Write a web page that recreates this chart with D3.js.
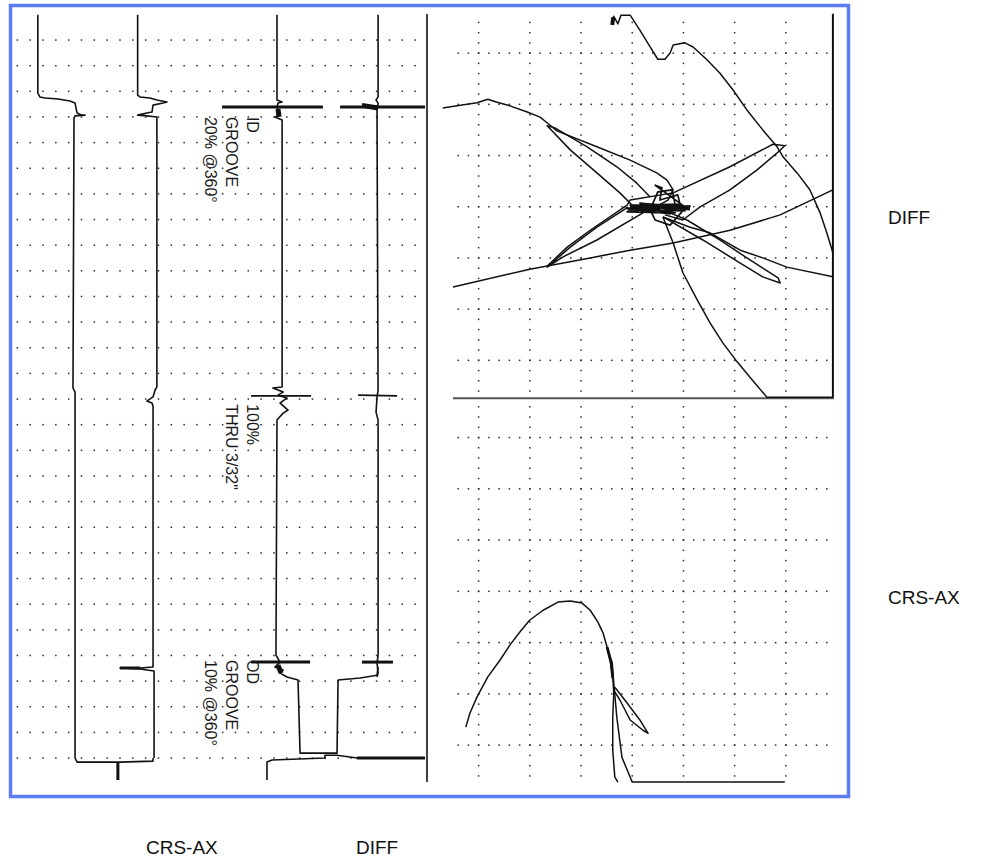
<!DOCTYPE html>
<html><head><meta charset="utf-8">
<script src="https://cdn.jsdelivr.net/npm/d3@7"></script>
<style>html,body{margin:0;padding:0;background:#fff;} svg{display:block;}</style>
</head><body><svg id="c" width="997" height="864"></svg>
<script>
// ---------------- DATA ----------------
// Strip chart: x in channel divisions, y in sample rows
const stripRows = d3.range(0, 28.001, 1);
const stripDotCols = d3.range(0, 15.51, 0.5);

const stripCh1 = [[0.80,-0.98],[0.80,2.07],[0.88,2.22],[1.08,2.26],[1.59,2.30],[2.05,2.38],[2.25,2.46],[2.33,2.85],[2.52,2.93],[2.64,2.93],[2.25,2.96],[2.21,3.04],[2.17,13.57],[2.25,13.73],[2.25,28.00],[2.33,28.16],[4.00,28.16],[5.29,28.12],[5.29,28.00]];
const stripCh1Stub = [[3.92,28.16],[3.92,28.86]];
const stripCh2 = [[4.69,-0.98],[4.69,2.15],[4.78,2.22],[5.17,2.26],[5.44,2.34],[5.83,2.42],[5.68,2.46],[5.29,2.54],[5.25,2.81],[5.05,2.85],[4.69,2.93],[5.05,2.96],[5.44,3.00],[5.44,13.53],[5.37,13.65],[5.29,13.92],[5.05,14.08],[5.25,14.16],[5.29,14.27],[5.29,24.45],[4.78,24.49],[4.00,24.49],[4.78,24.53],[5.33,24.61],[5.33,28.00]];
const stripCh2Marks = [[[4.00,24.49],[4.78,24.49]]];
const stripCh3 = [[10.12,-0.98],[10.12,2.34],[10.32,2.42],[10.16,2.46],[10.12,2.61],[10.24,2.93],[10.04,3.00],[10.32,3.12],[10.32,13.53],[9.96,13.57],[10.36,13.73],[10.16,13.85],[10.51,13.96],[10.24,14.16],[10.55,14.43],[10.36,14.55],[10.12,14.82],[10.08,23.99],[10.24,24.26],[10.04,24.45],[10.36,24.57],[10.24,24.69],[10.51,24.84],[10.94,24.96],[11.02,27.81],[12.46,27.81],[12.50,24.96],[13.36,24.88],[14.02,24.77],[14.06,24.45]];
const stripCh3Bottom = [[9.73,28.86],[9.73,28.16],[9.93,28.08],[11.99,28.00],[11.99,27.89],[12.46,27.89],[13.24,28.00],[15.89,28.00]];
const stripCh3Marks = [[[7.98,2.61],[11.91,2.61]],[[9.11,24.26],[11.41,24.26]],[[13.24,28.00],[15.89,28.00]]];
const stripCh3ThinMarks = [[[9.11,13.88],[11.45,13.88]]];
const stripBlobs = [[[10.16,2.69],[10.20,3.00]],[[10.16,24.38],[10.28,24.69]],[[13.43,2.55],[14.06,2.65]]];
const stripCh4 = [[14.06,-0.98],[14.06,2.22],[13.98,2.34],[14.06,2.46],[14.02,2.73],[14.02,3.24],[14.06,13.65],[14.02,13.92],[13.98,14.51],[14.06,14.82],[14.06,23.99],[14.02,24.30],[14.06,24.69],[14.02,24.84]];
const stripCh4Marks = [[[12.58,2.61],[15.89,2.61]],[[13.43,24.26],[14.64,24.26]]];
const stripCh4ThinMarks = [[[13.28,13.85],[14.80,13.88]]];

const annotations = [
  {lines:["ID","GROOVE","20% @360°"], ch:8.95, t:3.00},
  {lines:["100%","THRU 3/32\u02BA"], ch:8.95, t:14.20},
  {lines:["OD","GROOVE","10% @360°"], ch:8.95, t:24.18}
];

// Lissajous plots: volts in screen divisions
const gridDivs = [-3,-2,-1,0,1,2,3];
const colDots = d3.range(-3.6, 3.601, 0.2);
const rowDots = d3.range(-3.4, 3.801, 0.2);

const diffA = [[-0.39,3.61],[-0.36,3.72],[-0.28,3.57],[-0.22,3.74],[-0.04,3.74],[0.15,3.45],[0.35,3.12],[0.50,2.88],[0.64,2.88],[0.74,3.00],[0.80,3.16],[1.03,3.20],[1.19,3.12],[1.46,2.87],[1.71,2.61],[1.97,2.28],[2.24,1.89],[2.55,1.50],[2.83,1.17],[2.95,0.97],[3.22,0.66],[3.47,0.33],[3.67,-0.12],[3.80,-0.51],[3.92,-0.90]];
const diffB = [[-3.70,1.93],[-3.42,1.97],[-3.03,2.03],[-2.82,2.10],[-2.64,2.04],[-2.39,1.97],[-2.05,1.85],[-1.80,1.75],[-1.64,1.62],[-1.47,1.48],[-0.69,1.17],[-0.04,0.91],[0.48,0.66],[0.68,0.52],[0.80,0.33],[0.70,0.13],[0.45,-0.01]];
const diffC = [[0.35,0.19],[0.09,0.46],[-0.30,0.78],[-0.88,1.17],[-1.51,1.54],[-1.66,1.58],[-1.21,1.11],[-0.69,0.66],[-0.24,0.27],[0.00,0.03]];
const diffD = [[-0.08,-0.01],[-0.69,-0.40],[-1.21,-0.79],[-1.66,-1.18],[-1.35,-0.98],[-0.69,-0.65],[0.21,-0.12]];
const diffE = [[-3.50,-1.57],[-2.00,-1.22],[-1.66,-1.16],[-0.82,-1.00],[-0.04,-0.85],[0.80,-0.71],[1.91,-0.46],[2.89,-0.16],[3.92,0.33]];
const diffF = [[-1.66,-1.16],[-1.27,-0.79],[-0.82,-0.46],[-0.10,0.03],[-0.04,0.13],[0.80,0.27],[1.91,0.78],[2.75,1.22],[2.98,1.19],[2.83,1.05],[2.44,0.72],[1.91,0.33],[1.32,-0.01],[0.99,-0.26],[0.64,-0.16]];
const diffG = [[0.60,-0.20],[1.38,-0.65],[2.11,-1.10],[2.55,-1.37],[2.89,-1.49],[2.85,-1.39],[2.30,-1.04],[1.71,-0.65],[1.07,-0.26],[0.74,-0.12]];
const diffH = [[0.60,-0.20],[1.13,-0.40],[1.52,-0.51],[2.11,-0.85],[2.55,-1.00],[3.02,-1.18],[3.92,-1.37]];
const diffI = [[0.60,-0.20],[0.80,-0.71],[0.99,-1.29],[1.27,-1.82],[1.52,-2.27],[1.77,-2.66],[2.05,-3.03],[2.30,-3.33],[2.63,-3.72],[3.92,-3.72]];
const diffCore = [[-0.14,-0.03],[1.13,0.01],[-0.08,-0.06],[1.03,-0.08],[-0.04,0.03],[0.93,0.05],[-0.10,-0.10],[0.84,-0.12],[0.02,-0.01],[1.09,-0.03],[0.15,0.07],[0.74,-0.14],[0.07,-0.06],[1.01,0.01],[0.45,0.42],[0.58,0.37],[0.54,0.13],[0.89,0.23],[0.97,-0.10],[0.74,-0.36],[0.45,-0.26],[0.35,-0.06],[0.50,0.29],[0.78,0.33],[0.84,0.03]];
const diffCoreThick = [[-0.04,-0.03],[0.64,0.01],[1.13,-0.03]];
const diffStartBlob = [[-0.39,3.55],[-0.37,3.70]];

const crsArc = [[-3.25,-2.65],[-3.17,-2.38],[-3.03,-2.06],[-2.82,-1.67],[-2.58,-1.34],[-2.39,-1.05],[-2.19,-0.79],[-2.00,-0.56],[-1.74,-0.37],[-1.45,-0.21],[-1.21,-0.19],[-0.98,-0.23],[-0.82,-0.37],[-0.67,-0.60],[-0.57,-0.81],[-0.49,-1.09],[-0.43,-1.34],[-0.38,-1.67],[-0.36,-1.99],[-0.38,-2.46],[-0.38,-3.10],[-0.34,-3.62],[-0.28,-3.72]];
const crsStrand = [[-0.49,-1.09],[-0.39,-1.40],[-0.36,-1.79],[-0.30,-2.46],[-0.20,-3.24],[0.00,-3.72],[2.98,-3.72]];
const crsLoop = [[-0.34,-1.87],[-0.10,-2.18],[0.15,-2.51],[0.31,-2.77],[0.21,-2.71],[-0.04,-2.51],[-0.24,-2.12],[-0.36,-1.93]];
const crsThick = [[-0.49,-1.09],[-0.41,-1.40],[-0.38,-1.70]];

const sideLabels = ["DIFF","CRS-AX"];
const bottomLabels = ["CRS-AX","DIFF"];

// ---------------- DRAW ----------------
const svg = d3.select("#c");
svg.append("rect").attr("width",997).attr("height",864).attr("fill","#fff");

const sxS = d3.scaleLinear().domain([0,1]).range([17.3, 42.96]);
const syS = d3.scaleLinear().domain([0,28]).range([40,758]);
const sxX = d3.scaleLinear().domain([-3,3]).range([478.6,785.8]);
const syD = d3.scaleLinear().domain([-3,3]).range([360.3,53.1]);
const syC = d3.scaleLinear().domain([-3,3]).range([745.1,437.5]);

const ink = "#111";
const dotCol = "#2a2a2a";

// strip dots
const gStrip = svg.append("g");
stripRows.forEach(r => {
  gStrip.selectAll(null).data(stripDotCols).enter().append("rect")
    .attr("x", d => sxS(d)-0.7).attr("y", syS(r)-0.7)
    .attr("width",1.5).attr("height",1.5).attr("fill",dotCol);
});

// xy dots
function xyDots(sy){
  const g = svg.append("g");
  gridDivs.forEach(c => {
    g.selectAll(null).data(colDots).enter().append("rect")
      .attr("x", sxX(c)-0.7).attr("y", d => sy(d)-0.7)
      .attr("width",1.5).attr("height",1.5).attr("fill",dotCol);
  });
  gridDivs.forEach(r => {
    g.selectAll(null).data(rowDots).enter().append("rect")
      .attr("x", d => sxX(d)-0.7).attr("y", sy(r)-0.7)
      .attr("width",1.5).attr("height",1.5).attr("fill",dotCol);
  });
}
xyDots(syD);
xyDots(syC);

// frames
svg.append("line").attr("x1",427).attr("x2",427).attr("y1",syS(-1.01)).attr("y2",syS(28.94))
  .attr("stroke",ink).attr("stroke-width",1.6);
svg.append("line").attr("x1",sxX(3.92)).attr("x2",sxX(3.92)).attr("y1",syD(3.77)).attr("y2",syD(-3.74))
  .attr("stroke",ink).attr("stroke-width",2);
svg.append("line").attr("x1",sxX(-3.5)).attr("x2",sxX(3.94)).attr("y1",syD(-3.74)).attr("y2",syD(-3.74))
  .attr("stroke","#555").attr("stroke-width",2);

function drawPath(data, sx, sy, w){
  svg.append("path").datum(data)
    .attr("d", d3.line().x(d=>sx(d[0])).y(d=>sy(d[1])))
    .attr("fill","none").attr("stroke",ink).attr("stroke-width",w)
    .attr("stroke-linejoin","round").attr("stroke-linecap","butt");
}

// strip traces
[stripCh1, stripCh2, stripCh3, stripCh3Bottom, stripCh4].forEach(d => drawPath(d, sxS, syS, 1.6));
drawPath(stripCh1Stub, sxS, syS, 3);
[...stripCh2Marks, ...stripCh3Marks, ...stripCh4Marks].forEach(d => drawPath(d, sxS, syS, 3));
[...stripCh3ThinMarks, ...stripCh4ThinMarks].forEach(d => drawPath(d, sxS, syS, 1.7));
stripBlobs.forEach(d => drawPath(d, sxS, syS, 5));

// annotations
annotations.forEach(a => {
  const t = svg.append("text")
    .attr("transform", `translate(${sxS(a.ch)},${syS(a.t)}) rotate(90)`)
    .attr("font-family","'Liberation Sans', Arial, sans-serif")
    .attr("font-size",16).attr("fill","#1a1a1a");
  a.lines.forEach((l,i) => t.append("tspan").attr("x",0).attr("dy", i===0?0:21).text(l));
});

// DIFF lissajous
[diffA, diffB, diffC, diffD, diffE, diffF, diffG, diffH, diffI].forEach(d => drawPath(d, sxX, syD, 1.5));
drawPath(diffCore, sxX, syD, 1.7);
drawPath(diffCoreThick, sxX, syD, 4.5);
drawPath(diffStartBlob, sxX, syD, 4);

// CRS-AX lissajous
[crsArc, crsStrand, crsLoop].forEach(d => drawPath(d, sxX, syC, 1.5));
drawPath(crsThick, sxX, syC, 2.8);

// labels
const font = "'Liberation Sans', Arial, sans-serif";
const lab = (x,y,t) => svg.append("text").attr("x",x).attr("y",y).attr("font-family",font)
  .attr("font-size",19).attr("fill","#111").text(t);
lab(888,224,sideLabels[0]);
lab(888,604,sideLabels[1]);
lab(146,854,bottomLabels[0]);
lab(356,854,bottomLabels[1]);

// blue border
svg.append("rect").attr("x",10.5).attr("y",5.5).attr("width",838).attr("height",791)
  .attr("fill","none").attr("stroke","#5b7cf2").attr("stroke-width",3.5);
</script></body></html>
